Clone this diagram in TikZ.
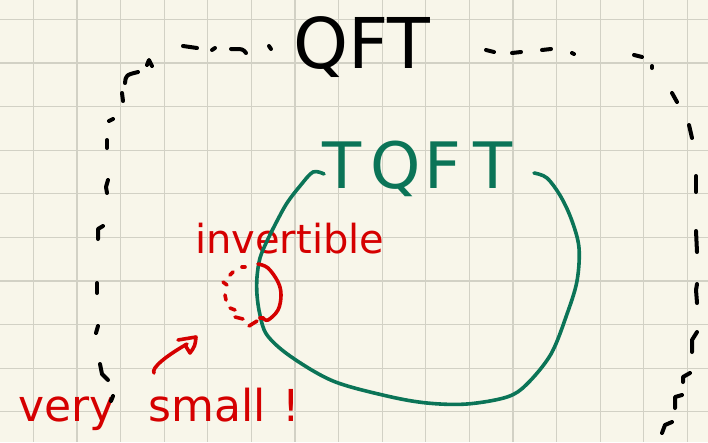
\documentclass[tikz,border=0pt]{standalone}
\usepackage{fontspec}
\setmainfont{DejaVu Sans}
\definecolor{paper}{HTML}{F8F6EA}
\definecolor{gridc}{HTML}{D2D1C5}
\definecolor{tqgreen}{HTML}{0B7457}
\definecolor{redink}{HTML}{D50000}
\begin{document}
\begin{tikzpicture}[x=1pt,y=-1pt,
  blk/.style={line width=4pt,line cap=round,line join=round,black},
  grn/.style={line width=3.6pt,line cap=round,line join=round,tqgreen},
  rd/.style={line width=3.6pt,line cap=round,line join=round,redink},
  gridline/.style={line width=1.2pt,gridc},
  lbl/.style={anchor=base west,inner sep=0pt}]
\fill[paper] (0,0) rectangle (708,442);
\useasboundingbox (0,0) rectangle (708,442);
\foreach \i in {0,...,15} \draw[gridline] ({33.3+43.6*\i},0) -- ({33.3+43.6*\i},442);
\foreach \j in {0,...,9} \draw[gridline] (0,{19.3+43.6*\j}) -- (708,{19.3+43.6*\j});

% texts
\node[lbl,font=\fontsize{70}{84}\selectfont] (qft) at (293,68) {QFT};
\node[lbl,text=tqgreen,font=\fontsize{64}{76}\selectfont] (tqft) at (322,188) {T\kern9pt Q\kern4pt F\kern12pt T};
\node[lbl,text=redink,font=\fontsize{40}{48}\selectfont] (inv) at (195,253) {invertible};
\node[lbl,text=redink,font=\fontsize{44}{52}\selectfont] (vs) at (18,421) {very\hspace{33pt}small\hspace{17pt}!};

% black dashed outline (QFT)
\draw[blk] (147,65) -- (149,60) -- (152,66);
\draw[blk] (125,83) .. controls (126,75) .. (138,72);
\draw[blk] (122,93) -- (123,101);
\draw[blk] (109,121) -- (113,119);
\draw[blk] (107,140) -- (107,148);
\draw[blk] (108,180) -- (106,187) -- (107,193);
\draw[blk] (103,226) -- (98,229) -- (98,239);
\draw[blk] (97,283) -- (97,293);
\draw[blk] (98,326) -- (96,333);
\draw[blk] (100,364) -- (102,374) -- (108,380);
\draw[blk] (113,396) -- (111,401);
\draw[blk] (183,46) -- (197,48);
\draw[blk] (212,50) -- (215,48);
\draw[blk] (231,49) .. controls (243,49) .. (246,53);
\draw[blk] (269,46) -- (271,49);
\draw[blk] (486,50) -- (494,52);
\draw[blk] (512,53) -- (521,52);
\draw[blk] (542,50) -- (551,49);
\draw[blk] (572,53) -- (574,54);
\draw[blk] (634,55) -- (642,57);
\draw[blk] (652,66) -- (652,68);
\draw[blk] (672,93) -- (677,102);
\draw[blk] (689,125) -- (692,138);
\draw[blk] (696,176) -- (696,192);
\draw[blk] (696,231) -- (697,252);
\draw[blk] (697,284) -- (696,290) -- (697,303);
\draw[blk] (697,332) -- (692,340) -- (692,352);
\draw[blk] (690,373) -- (683,377) -- (683,382);
\draw[blk] (682,395) -- (675,397) -- (675,408);
\draw[blk] (672,422) -- (665,425) -- (662,433);

% green TQFT region
\draw[grn] plot[smooth,tension=0.55] coordinates {(324,174) (313,172) (300,186) (287,203) (277,221) (267,241) (260,258) (257,277) (257,295) (260,315) (267,335) (290,356) (333,381) (387,396) (427,403) (467,404) (507,397) (527,384) (551,354) (567,314) (577,281) (579,248) (572,221) (561,197) (547,178) (534,173)};

% red invertible circle
\draw[rd] (242,267) -- (245,267);
\draw[rd] (233,272) -- (230,275);
\draw[rd] (223,282) -- (227,285);
\draw[rd] (225,295) -- (226,300);
\draw[rd] (230,308) -- (235,310);
\draw[rd] (235,317) -- (243,319);
\draw[rd] (249,326) -- (257,321);
\draw[rd] (260,318) -- (263,318);
\draw[rd] plot[smooth,tension=0.6] coordinates {(258,264) (268,268) (278,282) (281,295) (278,310) (268,320) (263,318)};

% red arrow
\coordinate (arrS) at (154,373);
\coordinate (arrE) at (187,344);
\coordinate (tip) at (196,337);
\draw[rd] (arrS) .. controls (151,368) and (166,356) .. (arrE);
\draw[rd] (178,340) -- (tip) .. controls (195,346) .. (190,353) -- (185,345);
\end{tikzpicture}
\end{document}
